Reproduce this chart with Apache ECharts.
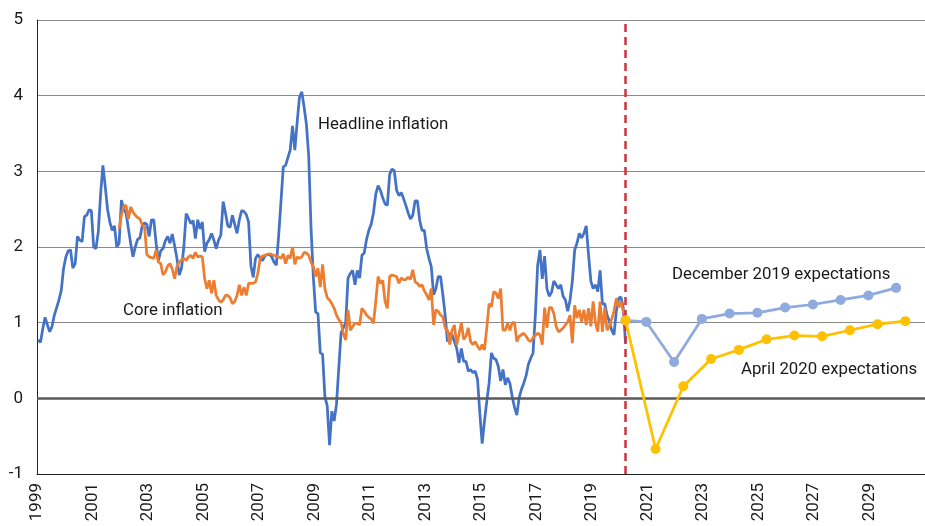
<!DOCTYPE html>
<html><head><meta charset="utf-8">
<script src="https://cdn.jsdelivr.net/npm/echarts@6/dist/echarts.min.js"></script>
<style>html,body{margin:0;padding:0;background:#fff}#c{width:925px;height:526px}</style>
</head><body><div id="c"></div>
<script>
// ---------- data ----------
const xTickYears = [1999,2001,2003,2005,2007,2009,2011,2013,2015,2017,2019,2021,2023,2025,2027,2029];
const yTicks = [-1,0,1,2,3,4,5];

const headlineStart = '1999-01';
const headline = [
 0.77,0.74,0.92,1.07,0.97,0.88,0.95,1.10,1.20,1.30,1.43,1.72,
 1.87,1.95,1.96,1.72,1.78,2.14,2.09,2.07,2.40,2.42,2.49,2.48,
 2.00,1.98,2.20,2.70,3.08,2.80,2.50,2.33,2.22,2.28,2.00,2.05,
 2.62,2.50,2.45,2.25,2.05,1.87,2.00,2.10,2.12,2.28,2.32,2.30,
 2.14,2.36,2.36,2.05,1.82,1.95,1.98,2.08,2.14,2.05,2.17,2.02,
 1.85,1.63,1.72,2.00,2.44,2.38,2.31,2.35,2.11,2.36,2.24,2.33,
 1.94,2.05,2.10,2.18,2.09,1.98,2.09,2.16,2.60,2.45,2.28,2.26,
 2.42,2.30,2.18,2.36,2.48,2.47,2.43,2.33,1.75,1.60,1.85,1.90,
 1.85,1.82,1.88,1.90,1.90,1.87,1.80,1.76,2.15,2.60,3.06,3.08,
 3.18,3.28,3.60,3.28,3.65,3.98,4.05,3.85,3.62,3.20,2.25,1.60,
 1.14,1.12,0.60,0.58,0.02,-0.10,-0.62,-0.17,-0.30,-0.08,0.40,0.87,
 0.93,1.00,1.59,1.65,1.69,1.50,1.69,1.59,1.89,1.92,2.10,2.22,
 2.30,2.45,2.70,2.81,2.75,2.65,2.57,2.55,2.96,3.03,3.01,2.75,
 2.68,2.72,2.64,2.55,2.45,2.37,2.42,2.61,2.61,2.35,2.22,2.22,
 1.98,1.85,1.74,1.37,1.45,1.61,1.61,1.37,1.10,0.75,0.86,0.84,
 0.75,0.66,0.47,0.66,0.49,0.49,0.36,0.38,0.34,0.36,0.25,-0.20,
 -0.60,-0.30,-0.04,0.20,0.60,0.53,0.51,0.42,0.23,0.38,0.18,0.27,
 0.20,0.02,-0.12,-0.22,0.01,0.12,0.20,0.30,0.45,0.53,0.60,1.10,
 1.76,1.96,1.58,1.88,1.45,1.35,1.40,1.55,1.50,1.45,1.50,1.35,
 1.30,1.15,1.30,1.55,1.96,2.05,2.18,2.12,2.18,2.28,1.90,1.55,
 1.45,1.50,1.41,1.69,1.25,1.25,1.10,1.02,0.90,0.84,1.15,1.32,
 1.34,1.20,0.73
];

const coreStart = '2001-12';
const core = [
 2.24,
 2.42,2.54,2.55,2.37,2.53,2.46,2.42,2.39,2.37,2.29,2.27,1.90,
 1.87,1.86,1.85,1.96,1.80,1.78,1.63,1.67,1.75,1.78,1.71,1.58,
 1.74,1.80,1.83,1.85,1.82,1.87,1.89,1.85,1.93,1.87,1.88,1.87,
 1.58,1.45,1.56,1.39,1.56,1.36,1.30,1.27,1.30,1.36,1.36,1.33,
 1.25,1.28,1.36,1.50,1.36,1.47,1.36,1.52,1.52,1.52,1.54,1.65,
 1.85,1.88,1.89,1.90,1.91,1.90,1.89,1.88,1.87,1.85,1.91,1.78,
 1.89,1.85,2.00,1.77,1.87,1.85,1.87,1.93,1.92,1.89,1.80,1.74,
 1.61,1.72,1.47,1.77,1.45,1.33,1.30,1.25,1.19,1.10,1.04,1.00,
 0.85,0.77,1.17,0.90,0.95,0.99,0.99,0.97,1.19,1.15,1.10,1.07,
 1.05,0.99,1.28,1.61,1.52,1.56,1.28,1.19,1.61,1.63,1.62,1.61,
 1.52,1.59,1.57,1.57,1.60,1.57,1.70,1.54,1.52,1.48,1.50,1.42,
 1.37,1.30,1.45,0.97,1.17,1.15,1.10,1.08,0.93,0.90,0.71,0.90,
 0.97,0.71,0.85,1.00,0.78,0.82,0.93,0.75,0.71,0.75,0.69,0.64,
 0.71,0.64,0.93,1.25,1.21,1.41,1.39,1.32,1.45,0.90,0.90,0.99,
 0.90,1.00,1.00,0.75,0.82,0.84,0.86,0.82,0.77,0.75,0.80,0.83,
 0.86,0.84,0.71,1.20,0.93,1.20,1.20,1.12,0.95,0.88,0.90,0.93,
 0.97,1.01,1.10,0.73,1.23,1.06,1.17,1.01,1.17,0.97,1.19,0.95,
 1.28,1.00,0.88,1.28,0.88,1.20,0.90,0.95,1.05,1.15,1.32,1.20,
 1.28,1.15,1.10
];

const dec2019Dates = ['2020-03','2020-12','2021-12','2022-12','2023-12','2024-12','2025-12','2026-12','2027-12','2028-12','2029-12'];
const dec2019 = [1.03,1.01,0.48,1.05,1.12,1.13,1.20,1.24,1.30,1.36,1.46];

const apr2020Dates = ['2020-03','2021-04','2022-04','2023-04','2024-04','2025-04','2026-04','2027-04','2028-04','2029-04','2030-04'];
const apr2020 = [1.03,-0.67,0.16,0.52,0.64,0.78,0.83,0.82,0.90,0.98,1.02];

const cutoffDate = '2020-03';
const seriesNames = ['Headline inflation','Core inflation','December 2019 expectations','April 2020 expectations'];

// ---------- helpers ----------
function toX(s){ const p = s.split('-'); return +p[0] + (+p[1] - 0.5)/12; }
function monthly(start, vals){ const x0 = toX(start); return vals.map((v,i)=>[x0 + i/12, v]); }
function dated(dates, vals){ return vals.map((v,i)=>[toX(dates[i]), v]); }

const FONT = 'Roboto, "Open Sans", sans-serif';
const TXT = '16.8px ' + FONT;
const chart = echarts.init(document.getElementById('c'), null, {renderer:'canvas'});
chart.setOption({
  animation:false,
  grid:{left:37, top:20, width:891.7, height:454, containLabel:false},
  xAxis:{
    type:'value', min:1999, max:2031, interval:2,
    axisLine:{show:true, onZero:false, lineStyle:{color:'#222', width:1}},
    axisTick:{show:false},
    splitLine:{show:false},
    axisLabel:{rotate:90, margin:9, fontSize:17, color:'#1a1a1a', fontFamily:FONT,
      customValues:xTickYears, formatter:v=>String(v)}
  },
  yAxis:{
    type:'value', min:yTicks[0], max:yTicks[yTicks.length-1], interval:1,
    axisLine:{show:true, lineStyle:{color:'#222', width:1}},
    axisTick:{show:false},
    splitLine:{show:true, lineStyle:{color:'#8a8a8a', width:1}},
    axisLabel:{margin:14, fontSize:17, color:'#1a1a1a', fontFamily:FONT}
  },
  series:[
    {name:seriesNames[0], type:'line', data:monthly(headlineStart, headline), showSymbol:false, symbol:'none',
     lineStyle:{color:'#4472C4', width:2.75}, z:3,
     markLine:{silent:true, symbol:['none','none'], label:{show:false}, animation:false,
       data:[
         {yAxis:0, lineStyle:{color:'#5a5a5a', width:2.5, type:'solid'}},
         {xAxis:toX(cutoffDate), lineStyle:{color:'#CC3340', width:2.5, type:[8,5]}}
       ]}
    },
    {name:seriesNames[1], type:'line', data:monthly(coreStart, core), showSymbol:false, symbol:'none',
     lineStyle:{color:'#ED7D31', width:2.75}, z:4},
    {name:seriesNames[2], type:'line', data:dated(dec2019Dates, dec2019), symbol:'circle', symbolSize:10,
     itemStyle:{color:'#8FAADC'}, lineStyle:{color:'#8FAADC', width:2.75}, z:5},
    {name:seriesNames[3], type:'line', data:dated(apr2020Dates, apr2020), symbol:'circle', symbolSize:10,
     itemStyle:{color:'#FFC000'}, lineStyle:{color:'#FFC000', width:2.75}, z:6}
  ],
  graphic:[
    {type:'text', x:318, y:125, style:{text:seriesNames[0], font:TXT, fill:'#1a1a1a', verticalAlign:'middle'}},
    {type:'text', x:123, y:311, style:{text:seriesNames[1], font:TXT, fill:'#1a1a1a', verticalAlign:'middle'}},
    {type:'text', x:672, y:275, style:{text:seriesNames[2], font:TXT, fill:'#1a1a1a', verticalAlign:'middle'}},
    {type:'text', x:741, y:370, style:{text:seriesNames[3], font:TXT, fill:'#1a1a1a', verticalAlign:'middle'}}
  ]
});
</script></body></html>
